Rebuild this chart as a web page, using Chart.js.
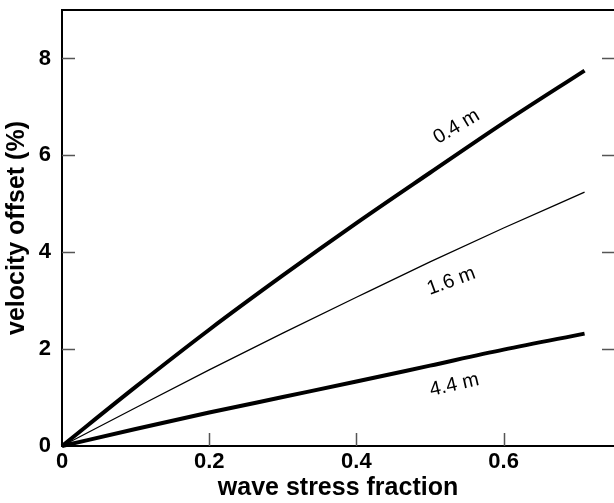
<!DOCTYPE html>
<html>
<head>
<meta charset="utf-8">
<script src="https://cdn.jsdelivr.net/npm/chart.js@4/dist/chart.umd.min.js"></script>
<style>
  html, body { margin: 0; padding: 0; background: #fff; }
  #wrap { width: 614px; height: 503px; }
</style>
</head>
<body>
<div id="wrap"><canvas id="chart"></canvas></div>
<script>
// wave stress fraction (x) and velocity offset in % (y), one array per depth
const stressFraction = [0, 0.1, 0.2, 0.3, 0.4, 0.5, 0.6, 0.71];
const offset04 = [0, 1.22, 2.40, 3.52, 4.6, 5.64, 6.67, 7.75];
const offset16 = [0, 0.79, 1.57, 2.33, 3.07, 3.8, 4.5, 5.24];
const offset44 = [0, 0.35, 0.69, 1.01, 1.33, 1.66, 1.99, 2.32];
const depthNames = ['0.4 m', '1.6 m', '4.4 m'];
// where each depth label sits, in data units
const labelX = [0.536, 0.529, 0.533];
const labelY = [6.59, 3.4, 1.26];
const xTicks = [0, 0.2, 0.4, 0.6];
const yTicks = [0, 2, 4, 6, 8];

const FONT = '"Liberation Sans", Arial, Helvetica, sans-serif';

function points(ys) {
  return stressFraction.map((x, i) => ({ x: x, y: ys[i] }));
}

// inward tick marks, top frame line and the rotated depth labels
const frame = {
  id: 'frame',
  afterDatasetsDraw(chart) {
    const { ctx, chartArea: a, scales: { x, y } } = chart;
    ctx.save();
    ctx.strokeStyle = '#555';
    ctx.lineWidth = 1.5;
    ctx.beginPath();
    xTicks.forEach(v => {
      if (v === 0) return;
      const px = Math.round(x.getPixelForValue(v)) + 0.5;
      ctx.moveTo(px, a.bottom);
      ctx.lineTo(px, a.bottom - 13);
    });
    yTicks.forEach(v => {
      if (v === 0) return;
      const py = Math.round(y.getPixelForValue(v)) + 0.5;
      ctx.moveTo(a.left, py);
      ctx.lineTo(a.left + 13, py);
      ctx.moveTo(a.right, py);
      ctx.lineTo(a.right - 12, py);
    });
    ctx.stroke();

    ctx.strokeStyle = '#000';
    ctx.lineWidth = 2;
    ctx.beginPath();
    ctx.moveTo(a.left, a.top);
    ctx.lineTo(a.right, a.top);
    ctx.stroke();

    const angles = [-31, -20, -13];
    ctx.fillStyle = '#000';
    ctx.font = '20px ' + FONT;
    ctx.textAlign = 'center';
    ctx.textBaseline = 'middle';
    depthNames.forEach((name, i) => {
      ctx.save();
      ctx.translate(x.getPixelForValue(labelX[i]), y.getPixelForValue(labelY[i]));
      ctx.rotate(angles[i] * Math.PI / 180);
      ctx.fillText(name, 0, 0);
      ctx.restore();
    });
    ctx.restore();
  }
};

new Chart(document.getElementById('chart'), {
  type: 'scatter',
  data: {
    datasets: [
      { label: depthNames[0], data: points(offset04), borderWidth: 4 },
      { label: depthNames[1], data: points(offset16), borderWidth: 1.3 },
      { label: depthNames[2], data: points(offset44), borderWidth: 4 }
    ].map(d => Object.assign(d, {
      showLine: true,
      borderColor: '#000',
      pointRadius: 0,
      cubicInterpolationMode: 'monotone',
      clip: false
    }))
  },
  options: {
    responsive: true,
    maintainAspectRatio: false,
    animation: false,
    layout: { padding: { top: 10, right: 0, left: 0, bottom: 0 } },
    plugins: { legend: { display: false }, tooltip: { enabled: false } },
    scales: {
      x: {
        type: 'linear',
        min: 0,
        max: 0.75,
        afterBuildTicks: s => { s.ticks = xTicks.map(v => ({ value: v })); },
        afterFit: s => { s.height = 57; s.paddingLeft = 0; s.paddingRight = 0; },
        grid: { display: false, drawTicks: false },
        border: { display: true, color: '#000', width: 2 },
        ticks: {
          color: '#000',
          padding: 3,
          maxRotation: 0,
          font: { family: FONT, size: 22, weight: 'bold' },
          callback: v => String(v)
        },
        title: {
          display: true,
          text: 'wave stress fraction',
          color: '#000',
          padding: { top: 0, bottom: 0 },
          font: { family: FONT, size: 25, weight: 'bold' }
        }
      },
      y: {
        type: 'linear',
        min: 0,
        max: 9,
        afterBuildTicks: s => { s.ticks = yTicks.map(v => ({ value: v })); },
        afterFit: s => { s.width = 62; s.paddingTop = 0; s.paddingBottom = 0; },
        grid: { display: false, drawTicks: false },
        border: { display: true, color: '#000', width: 2 },
        ticks: {
          color: '#000',
          padding: 11,
          font: { family: FONT, size: 22, weight: 'bold' },
          callback: v => String(v)
        },
        title: {
          display: true,
          text: 'velocity offset (%)',
          color: '#000',
          padding: { top: 2, bottom: 0 },
          font: { family: FONT, size: 25, weight: 'bold' }
        }
      }
    }
  },
  plugins: [frame]
});
</script>
</body>
</html>
